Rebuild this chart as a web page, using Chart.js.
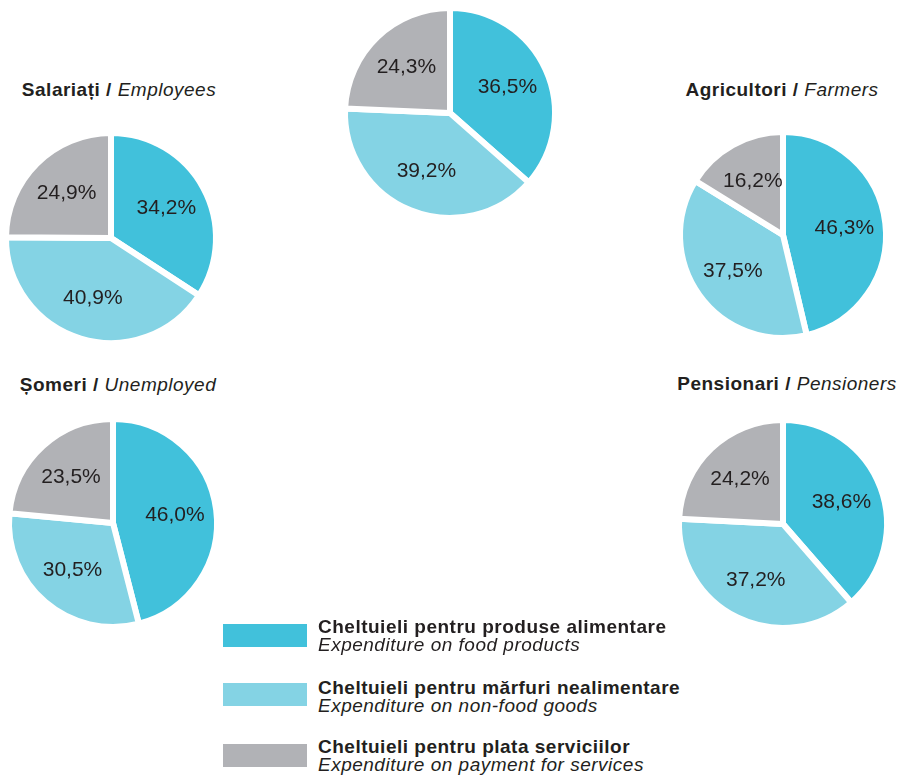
<!DOCTYPE html>
<html>
<head>
<meta charset="utf-8">
<script src="https://cdn.jsdelivr.net/npm/chart.js@4.4.1/dist/chart.umd.min.js"></script>
<style>
    body {
        margin: 0;
        width: 900px;
        height: 776px;
        position: relative;
        overflow: hidden;
        background: #fff;
        font-family: "Liberation Sans", Arial, Helvetica, sans-serif;
        color: #231f20;
    }
    .pie-wrap { position: absolute; width: 240px; height: 240px; }
    .pie-title {
        position: absolute;
        white-space: nowrap;
        font-size: 19px;
        line-height: 18px;
        letter-spacing: 0.5px;
        transform: translateX(-50%);
    }
    .pie-title b { font-weight: 700; }
    .pie-title i { font-style: italic; font-weight: 400; }
    .legend-item { position: absolute; left: 223px; }
    .legend-swatch { position: absolute; left: 0; width: 84px; height: 23px; }
    .legend-text {
        position: absolute;
        left: 95px;
        white-space: nowrap;
        font-size: 19px;
        line-height: 18px;
        letter-spacing: 0.5px;
    }
    .legend-text b { display: block; font-weight: 700; }
    .legend-text i { display: block; font-style: italic; }
</style>
</head>
<body>
<div id="root"></div>
<script>
// ─── Data ─────────────────────────────────────────────

const categoriesRo = [
    'Cheltuieli pentru produse alimentare',
    'Cheltuieli pentru mărfuri nealimentare',
    'Cheltuieli pentru plata serviciilor',
];
const categoriesEn = [
    'Expenditure on food products',
    'Expenditure on non-food goods',
    'Expenditure on payment for services',
];
const groupsRo = ['', 'Salariați', 'Agricultori', 'Șomeri', 'Pensionari'];
const groupsEn = ['', 'Employees', 'Farmers', 'Unemployed', 'Pensioners'];

const totalValues      = [36.5, 39.2, 24.3];
const employeesValues  = [34.2, 40.9, 24.9];
const farmersValues    = [46.3, 37.5, 16.2];
const unemployedValues = [46.0, 30.5, 23.5];
const pensionersValues = [38.6, 37.2, 24.2];

const seriesList = [totalValues, employeesValues, farmersValues, unemployedValues, pensionersValues];

const COLORS = ['#41c1db', '#84d3e4', '#b1b2b6'];

// ─── Layout (pixels) ──────────────────────────────────

const GAP = 6;
const LAYOUT = [
    { cx: 450, cy: 113, r: 102, titleX: 0,   titleY: 0   },
    { cx: 111, cy: 238, r: 102, titleX: 119, titleY: 81  },
    { cx: 783, cy: 235, r: 100, titleX: 782, titleY: 81  },
    { cx: 113, cy: 523, r: 101, titleX: 118, titleY: 376 },
    { cx: 783, cy: 524, r: 101, titleX: 787, titleY: 375 },
];
const LEGEND_TOPS = [618, 679, 738];
const SWATCH_OFFSETS = [6, 4, 6];

// ─── Helpers ──────────────────────────────────────────

function fmtPct(v) {
    return v.toFixed(1).replace('.', ',') + '%';
}

// draws the percentages inside each slice
const pieLabels = {
    id: 'pieLabels',
    afterDatasetsDraw(chart) {
        const { ctx } = chart;
        const meta = chart.getDatasetMeta(0);
        const values = chart.data.datasets[0].data;
        ctx.save();
        ctx.font = '21px "Liberation Sans", Arial, sans-serif';
        ctx.fillStyle = '#231f20';
        ctx.textAlign = 'center';
        ctx.textBaseline = 'middle';
        meta.data.forEach((arc, i) => {
            const { x, y, startAngle, endAngle, outerRadius } =
                arc.getProps(['x', 'y', 'startAngle', 'endAngle', 'outerRadius'], true);
            const mid = (startAngle + endAngle) / 2;
            const d = outerRadius * 0.6;
            ctx.fillText(fmtPct(values[i]), x + Math.cos(mid) * d, y + Math.sin(mid) * d);
        });
        ctx.restore();
    },
};

// ─── Pies ─────────────────────────────────────────────

const root = document.getElementById('root');

seriesList.forEach((values, idx) => {
    const L = LAYOUT[idx];

    const wrap = document.createElement('div');
    wrap.className = 'pie-wrap';
    wrap.style.left = (L.cx - 120) + 'px';
    wrap.style.top = (L.cy - 120) + 'px';
    const canvas = document.createElement('canvas');
    canvas.width = 240;
    canvas.height = 240;
    wrap.appendChild(canvas);
    root.appendChild(wrap);

    if (groupsRo[idx]) {
        const t = document.createElement('div');
        t.className = 'pie-title';
        t.style.left = L.titleX + 'px';
        t.style.top = L.titleY + 'px';
        t.innerHTML = `<b>${groupsRo[idx]} / </b><i>${groupsEn[idx]}</i>`;
        root.appendChild(t);
    }

    new Chart(canvas.getContext('2d'), {
        type: 'pie',
        data: {
            labels: categoriesRo,
            datasets: [{
                data: values,
                backgroundColor: COLORS,
                borderColor: '#ffffff',
                borderWidth: GAP,
                hoverOffset: 0,
            }],
        },
        options: {
            responsive: false,
            animation: false,
            radius: L.r + GAP / 2,
            layout: { padding: 0 },
            plugins: {
                legend: { display: false },
                tooltip: { enabled: false },
            },
        },
        plugins: [pieLabels],
    });
});

// ─── Legend ───────────────────────────────────────────

categoriesRo.forEach((label, i) => {
    const item = document.createElement('div');
    item.className = 'legend-item';
    item.style.top = LEGEND_TOPS[i] + 'px';
    item.innerHTML = `
        <div class="legend-swatch" style="top:${SWATCH_OFFSETS[i]}px;background:${COLORS[i]}"></div>
        <div class="legend-text"><b>${label}</b><i>${categoriesEn[i]}</i></div>`;
    root.appendChild(item);
});
</script>
</body>
</html>
